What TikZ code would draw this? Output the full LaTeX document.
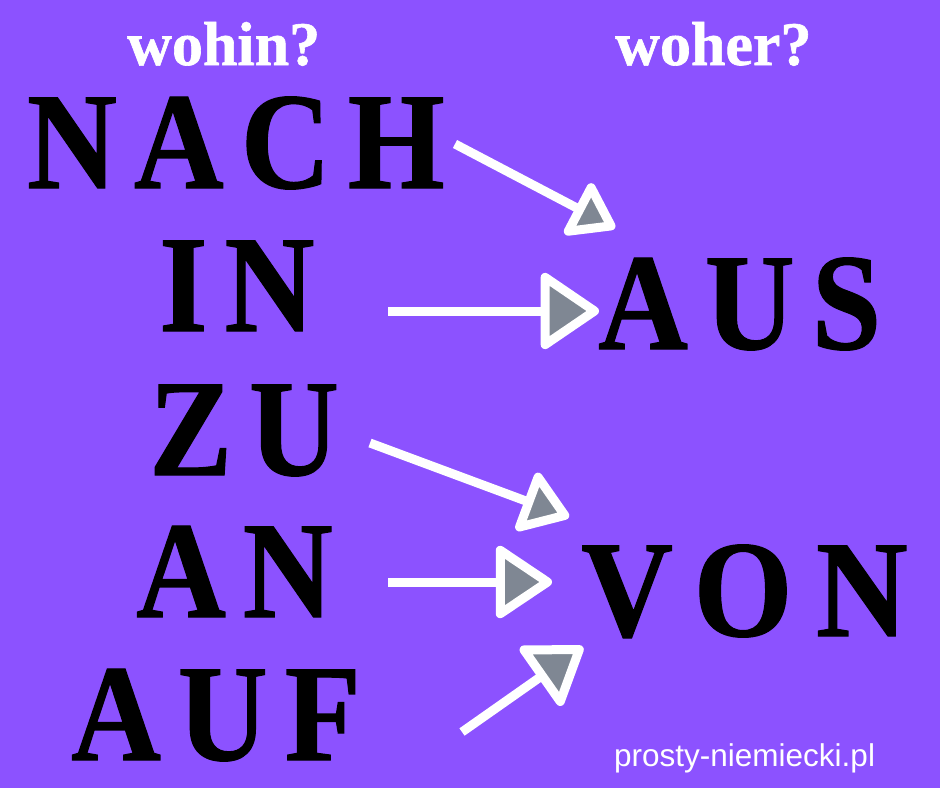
\documentclass[tikz,border=0pt]{standalone}
\usepackage{fontspec}
\setmainfont{Liberation Serif}
\newfontfamily\wordfont[FakeStretch=0.9, LetterSpace=12.5, FakeBold=0.9]{Liberation Serif}
\newfontfamily\wideword[FakeStretch=0.92, LetterSpace=17, FakeBold=0.9]{Liberation Serif}
\newfontfamily\askfont[FakeBold=1]{Liberation Serif}
\newfontfamily\sitefont{Liberation Sans}
\usetikzlibrary{arrows.meta}
\definecolor{bgpurple}{RGB}{140,82,255}
\definecolor{tipgray}{RGB}{127,135,147}

\begin{document}
\begin{tikzpicture}[x=1pt, y=-1pt,
  word/.style={anchor=base west, inner sep=0pt, font=\wordfont\bfseries\fontsize{138}{138}\selectfont},
  ask/.style={anchor=base west, inner sep=0pt, text=white, font=\askfont\bfseries\fontsize{62}{62}\selectfont},
  conn/.style={draw=white, line width=9pt, -{Triangle[fill=tipgray, round, #1]}}]
\fill[bgpurple] (0,0) rectangle (940,788);
% questions
\node[ask] (wohin) at (127,65) {wohin?};
\node[ask] (woher) at (615,65) {woher?};
% left column
\node[word] (nach) at (27,188) {NACH};
\node[word] (in) at (159,331) {IN};
\node[word] (zu) at (149,475) {ZU};
\node[word] (an) at (136,617) {AN};
\node[word] (auf) at (71,760) {AUF};
% right column
\node[word] (aus) at (598,349) {AUS};
\node[word, font=\wideword\bfseries\fontsize{138}{138}\selectfont] (von) at (581,636) {VON};
% arrow ends
\coordinate (nach-out) at (455,144);
\coordinate (in-out) at (388,311);
\coordinate (zu-out) at (370,443);
\coordinate (an-out) at (388,582);
\coordinate (auf-out) at (462,732);
\coordinate (aus-top) at (615,228);
\coordinate (aus-left) at (599,311);
\coordinate (von-top) at (569,517);
\coordinate (von-left) at (552,582);
\coordinate (von-low) at (583,647);
\draw[conn={length=48pt, width=64pt}] (nach-out) -- (aus-top);
\draw[conn={length=62pt, width=82pt}] (in-out) -- (aus-left);
\draw[conn={length=51pt, width=68pt}] (zu-out) -- (von-top);
\draw[conn={length=60pt, width=78pt}] (an-out) -- (von-left);
\draw[conn={length=58pt, width=78pt}] (auf-out) -- (von-low);
\node[anchor=base west, inner sep=0pt, text=white, font=\sitefont\fontsize{31.5}{31.5}\selectfont] (site) at (614,766) {prosty-niemiecki.pl};
\end{tikzpicture}
\end{document}
